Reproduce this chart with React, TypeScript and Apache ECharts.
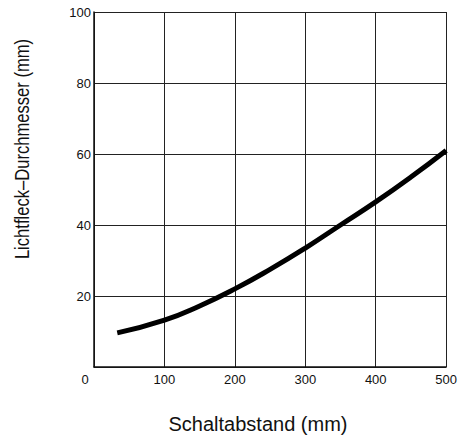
import React, { useEffect, useRef } from "react";
import * as echarts from "echarts";

const xValues = [33, 100, 150, 200, 250, 300, 350, 400, 450, 500];
const yValues = [9.6, 13.2, 17.2, 22, 27.5, 33.5, 40, 46.5, 53.5, 61];
const xTitle = "Schaltabstand (mm)";
const yTitle = "Lichtfleck\u2013Durchmesser (mm)";

export default function App() {
  const ref = useRef<HTMLDivElement>(null);
  useEffect(() => {
    const chart = echarts.init(ref.current!, null, { renderer: "svg" });
    const font = "'Liberation Sans', Arial, sans-serif";
    chart.setOption({
      animation: false,
      backgroundColor: "#fff",
      grid: { left: 94, right: 12, top: 12, bottom: 74, containLabel: false },
      xAxis: {
        type: "value",
        min: 0,
        max: 500,
        interval: 100,
        axisLine: { show: true, lineStyle: { color: "#111", width: 1.5 } },
        axisTick: { show: false },
        axisLabel: {
          color: "#111",
          fontSize: 13,
          fontFamily: font,
          margin: 6,
          formatter: (v: number) => (v === 0 ? "{z|0}" : String(v)),
          rich: { z: { fontSize: 13, fontFamily: font, color: "#111", padding: [0, 18, 0, 0] } },
        },
        splitLine: { show: true, lineStyle: { color: "#222", width: 1 } },
      },
      yAxis: {
        type: "value",
        min: 0,
        max: 100,
        interval: 20,
        axisLine: { show: true, lineStyle: { color: "#111", width: 1.5 } },
        axisTick: { show: false },
        axisLabel: {
          color: "#111",
          fontSize: 13,
          fontFamily: font,
          margin: 3,
          formatter: (v: number) => (v === 0 ? "" : String(v)),
        },
        splitLine: { show: true, lineStyle: { color: "#222", width: 1 } },
      },
      graphic: [
        {
          type: "text",
          x: 22,
          y: 149,
          rotation: Math.PI / 2,
          scaleX: 0.83,
          style: {
            text: yTitle,
            fontSize: 20,
            fontFamily: font,
            fill: "#111",
            align: "center",
            verticalAlign: "middle",
          },
        },
        {
          type: "text",
          x: 258,
          y: 424,
          style: {
            text: xTitle,
            fontSize: 20,
            fontFamily: font,
            fill: "#111",
            align: "center",
            verticalAlign: "middle",
          },
        },
      ],
      series: [
        {
          type: "line",
          data: xValues.map((x, i) => [x, yValues[i]]),
          smooth: true,
          showSymbol: false,
          lineStyle: { color: "#000", width: 5 },
        },
      ],
    });
    return () => chart.dispose();
  }, []);
  return (
    <div
      ref={ref}
      style={{ position: "fixed", left: 0, top: 0, width: 460, height: 441 }}
    />
  );
}
